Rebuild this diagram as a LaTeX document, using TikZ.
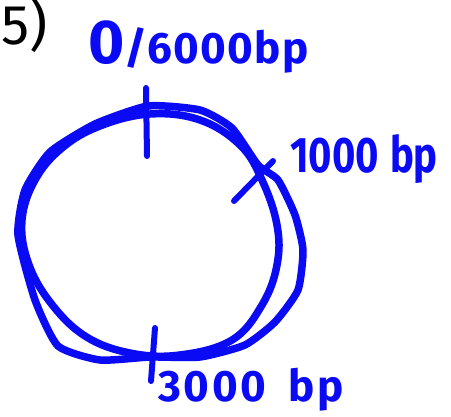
\documentclass[tikz,border=0pt]{standalone}
\usepackage{fontspec}
\setmainfont{Fira Sans}
\definecolor{ink}{RGB}{10,10,245}
\tikzset{
  loopline/.style={draw=ink,line width=7.5pt,line cap=round,line join=round},
  tickline/.style={draw=ink,line width=6pt,line cap=round},
  lbl/.style={text=ink,font=\bfseries,inner sep=0pt,anchor=base west}
}
\begin{document}
\begin{tikzpicture}[x=1pt,y=-1pt]
\useasboundingbox (0,0) rectangle (451,417);
% number
\node[anchor=base west,inner sep=0pt,font=\fontsize{56}{56}\selectfont] (num) at (1,45) {5)};
% plasmid loops
\draw[loopline] plot[smooth cycle,tension=0.65] coordinates {
 (150,114) (200,120) (240,145) (262,180) (277,225) (277,265) (262,305)
 (232,340) (180,355) (130,353) (85,336) (50,302) (28,262) (22,220) (35,180) (62,148) (100,126)};
\draw[loopline] plot[smooth cycle,tension=0.35] coordinates {
 (148,106) (200,110) (232,128) (258,165) (278,180) (295,215) (303,250) (298,290)
 (275,322) (245,345) (200,357) (150,357) (100,360) (58,346) (35,300) (18,235)
 (25,190) (50,152) (95,124)};
% ticks
\coordinate (t0a) at (146,88);  \coordinate (t0b) at (147,156);
\coordinate (t1a) at (234,201); \coordinate (t1b) at (273,161);
\coordinate (t3a) at (155,328); \coordinate (t3b) at (151,381);
\draw[tickline] (t0a) -- (t0b);
\draw[tickline] (t1a) -- (t1b);
\draw[tickline] (t3a) -- (t3b);
% labels
\node[lbl] (l0) at (88,64) {{\fontsize{62}{62}\selectfont 0}{\fontsize{44}{44}\selectfont\addfontfeature{LetterSpace=3}/6000bp}};
\node[lbl,xscale=0.8,transform shape,font=\fontsize{50}{50}\selectfont\bfseries] (l1) at (290,173) {1000\hspace{14pt}bp};
\node[lbl,font=\fontsize{44}{44}\selectfont\bfseries] (l3) at (158,402) {\addfontfeature{LetterSpace=6}3000\hspace{22pt}bp};
\end{tikzpicture}
\end{document}
